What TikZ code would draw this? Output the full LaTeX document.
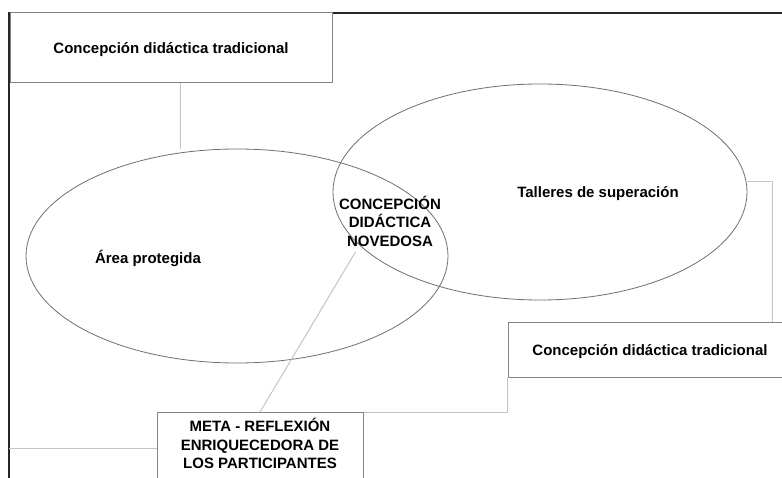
\documentclass[tikz,border=0pt]{standalone}
\usepackage{fontspec}
\setmainfont{Liberation Sans}
\usetikzlibrary{shapes.geometric}
\usetikzlibrary{positioning}
\definecolor{framegray}{HTML}{262626}
\definecolor{boxgray}{HTML}{858585}
\definecolor{ovalgray}{HTML}{6E6E6E}
\definecolor{linkgray}{HTML}{C4C4C4}
\tikzset{
    frameline/.style={draw=framegray, line width=1.3pt},
    concept/.style={draw=boxgray, line width=1pt, inner sep=0pt,
        font=\fontsize{15}{18.5}\selectfont\bfseries, align=center},
    oval/.style={ellipse, draw=ovalgray, line width=0.8pt, inner sep=0pt},
    ovaltext/.style={font=\fontsize{15}{18.5}\selectfont\bfseries, align=center},
    link/.style={draw=linkgray, line width=1pt},
}
\begin{document}
\begin{tikzpicture}[x=1pt, y=-1pt]
	\useasboundingbox (0,0) rectangle (782,478);
	\coordinate (corner) at (9,13);
	\draw[frameline] (782,13) -- (corner) -- (9,478);
	% the two fields
	\node[oval, minimum width=422pt, minimum height=214pt] (area) at (237,256) {};
	\node[oval, minimum width=414pt, minimum height=216pt] (taller) at (540,192) {};
	\node[ovaltext] (areatext) at (148,258) {Área protegida};
	\node[ovaltext] (tallertext) at (598,194) {Talleres de superación};
	\node[ovaltext] (nueva) at (390,221) {CONCEPCIÓN\\DIDÁCTICA\\NOVEDOSA};
	% boxes
	\node[concept, fill=white, text depth=0pt, minimum width=322pt, minimum height=70pt] (tradtop) at (171,48) {Concepción didáctica tradicional};
	\node[concept, fill=white, text depth=0pt, minimum width=284pt, minimum height=55pt] (tradright) at (650,350) {Concepción didáctica tradicional};
	\node[concept, fill=white, anchor=north, minimum width=206pt, inner ysep=6pt, text depth=10pt] (meta) at (260,412) {META - REFLEXIÓN\\ENRIQUECEDORA DE\\LOS PARTICIPANTES};
	% connectors
	\draw[link] ([xshift=9pt]tradtop.south) -- ([xshift=9pt]tradtop.south |- area.north);
	\draw[link] (taller.3) -| ([xshift=-20pt]tradright.north east);
	\draw[link] (tradright.south west) |- (meta.north east);
	\draw[link] (meta.west) -- (meta.west -| corner);
	\draw[link] (meta.north) -- ([xshift=20pt,yshift=-2pt]nueva.south west);
\end{tikzpicture}
\end{document}
